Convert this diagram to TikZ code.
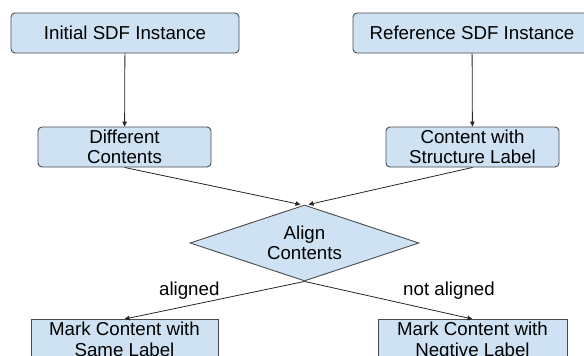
\documentclass[tikz,border=0pt]{standalone}
\usepackage{fontspec}
\setmainfont{Liberation Sans}
\usetikzlibrary{positioning}
\usetikzlibrary{shapes.geometric,arrows.meta}

\definecolor{boxblue}{HTML}{CFE2F3}
\definecolor{boxline}{HTML}{4A4A4A}

\tikzset{
 every node/.style={font=\fontsize{18.7}{20.5}\selectfont},
 stepbox/.style={draw=boxline,fill=boxblue,line width=0.9pt,rounded corners=4pt,
   inner sep=0pt,align=center,minimum height=40pt},
 markbox/.style={draw=boxline,fill=boxblue,line width=0.9pt,
   inner sep=0pt,align=center,minimum height=46pt},
 decide/.style={draw=boxline,fill=boxblue,line width=0.9pt,diamond,aspect=3,
   inner sep=0pt,align=center,minimum width=229pt,minimum height=76pt},
 flow/.style={draw=black!85,line width=0.8pt,-{Triangle[length=5pt,width=4.5pt]}},
 branch/.style={inner sep=0pt,anchor=south}
}

\begin{document}
\begin{tikzpicture}[x=1pt,y=-1pt]
 \useasboundingbox (0,0) rectangle (584,356);
 \clip (0,0) rectangle (584,356);
 \node[stepbox,minimum width=228pt] (init) at (125,33) {Initial SDF Instance};
 \node[stepbox,minimum width=238pt] (ref) at (472,33) {Reference SDF Instance};
 \node[stepbox,minimum width=173pt] (diff) at (124.5,147) {Different\\Contents};
 \node[stepbox,minimum width=173pt] (struct) at (472.5,147) {Content with\\Structure Label};
 \node[decide] (align) at (304.5,243) {Align\\Contents};
 \node[markbox,minimum width=187pt] (same) at (124.5,342.5) {Mark Content with\\Same Label\strut};
 \node[markbox,minimum width=189pt] (neg) at (472.5,342.5) {Mark Content with\\Negtive Label\strut};

 \draw[flow] (init) -- (diff);
 \draw[flow] (ref) -- (struct);
 \draw[flow] (diff.south) -- ([xshift=-4pt]align.north);
 \draw[flow] (struct.south) -- ([xshift=4pt]align.north);
 \draw[flow] (align.south) -- node[branch,pos=0.64,above=6pt] {aligned} (same.north);
 \draw[flow] (align.south) -- node[branch,pos=0.86,above=14pt] {not aligned} (neg.north);
\end{tikzpicture}
\end{document}
